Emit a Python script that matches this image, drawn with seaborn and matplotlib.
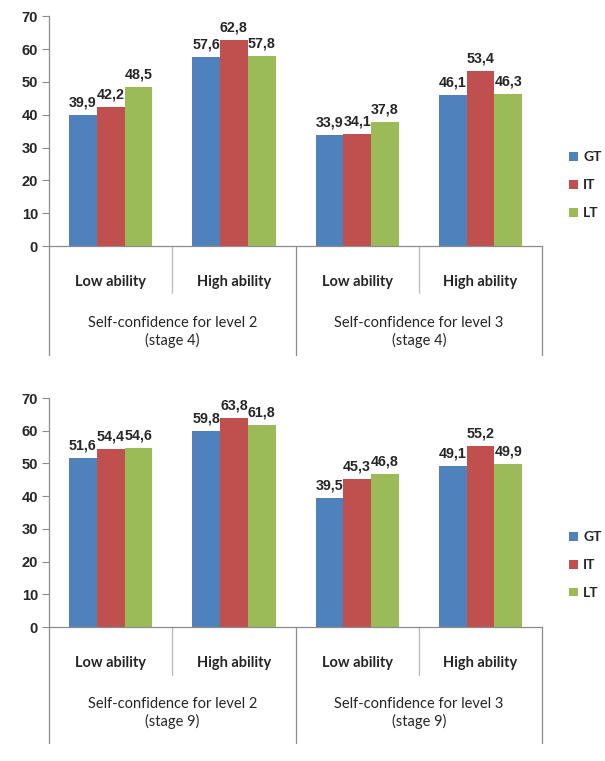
import matplotlib
matplotlib.use("Agg")
import matplotlib.pyplot as plt
import matplotlib.transforms as mtransforms
from matplotlib.patches import Patch
import pandas as pd
import seaborn as sns

# Data
abilities = ["Low ability", "High ability", "Low ability", "High ability"]
groups_stage4 = ["Self-confidence for level 2\n(stage 4)", "Self-confidence for level 3\n(stage 4)"]
groups_stage9 = ["Self-confidence for level 2\n(stage 9)", "Self-confidence for level 3\n(stage 9)"]
series = ["GT", "IT", "LT"]

stage4_gt = [39.9, 57.6, 33.9, 46.1]
stage4_it = [42.2, 62.8, 34.1, 53.4]
stage4_lt = [48.5, 57.8, 37.8, 46.3]

stage9_gt = [51.6, 59.8, 39.5, 49.1]
stage9_it = [54.4, 63.8, 45.3, 55.2]
stage9_lt = [54.6, 61.8, 46.8, 49.9]

colors = ["#4F81BD", "#C0504D", "#9BBB59"]
yticks = [0, 10, 20, 30, 40, 50, 60, 70]

sns.set_theme(style="white")
plt.rcParams["font.family"] = ["Lato", "DejaVu Sans"]

AXIS_GREY = "#8C8C8C"
NUM_FONT = ["Liberation Sans", "DejaVu Sans"]


def build_frame(gt, it, lt):
    rows = []
    for name, vals in zip(series, [gt, it, lt]):
        for i, v in enumerate(vals):
            rows.append({"slot": i, "series": name, "value": v})
    return pd.DataFrame(rows)


def draw_panel(ax, df, group_labels, short_drop, long_drop, legend_y):
    sns.barplot(data=df, x="slot", y="value", hue="series", hue_order=series,
                palette=colors, saturation=1, width=0.675, gap=0, linewidth=0,
                errorbar=None, ax=ax, legend=False)
    ax.set_xlim(-0.5, 3.5)
    ax.set_ylim(0, 70)
    ax.set_xlabel("")
    ax.set_ylabel("")
    ax.set_yticks(yticks)
    ax.set_yticklabels([str(t) for t in yticks], fontfamily=NUM_FONT,
                       fontweight="bold", fontsize=10.5)
    ax.tick_params(axis="y", which="major", direction="out", length=5,
                   width=0.8, color=AXIS_GREY, pad=3, left=True)
    ax.set_xticks(range(4))
    ax.set_xticklabels(abilities, fontweight="bold", fontsize=10.5)
    ax.tick_params(axis="x", length=0, pad=21)

    for side in ["top", "right"]:
        ax.spines[side].set_visible(False)
    for side in ["left", "bottom"]:
        ax.spines[side].set_color(AXIS_GREY)
        ax.spines[side].set_linewidth(0.9)

    # value labels on bars
    for container in ax.containers:
        labels = [f"{b.get_height():.1f}".replace(".", ",") for b in container]
        ax.bar_label(container, labels=labels, padding=4, fontsize=10.3,
                     fontweight="bold", fontfamily=NUM_FONT)

    # category table lines below the axis
    trans = mtransforms.blended_transform_factory(ax.transData, ax.transAxes)
    for x in [0.5, 2.5]:
        ax.plot([x, x], [0, -short_drop], transform=trans, color="#BFBFBF",
                lw=1.0, clip_on=False)
    for x in [-0.5, 1.5, 3.5]:
        ax.plot([x, x], [0, -long_drop], transform=trans, color=AXIS_GREY,
                lw=0.9, clip_on=False)

    for gx, label in zip([0.5, 2.5], group_labels):
        ax.text(gx, -0.375, label, transform=trans, ha="center", va="center",
                fontsize=10.5, linespacing=1.25)

    handles = [Patch(facecolor=c, edgecolor="none") for c in colors]
    ax.legend(handles, series, loc="center left",
              bbox_to_anchor=(1.055, legend_y), frameon=False, borderpad=0,
              borderaxespad=0,
              handlelength=0.6, handleheight=0.6, handletextpad=0.4,
              labelspacing=1.15, prop={"weight": "bold", "size": 10})


fig = plt.figure(figsize=(6.05, 7.61), dpi=100)
ax_top = fig.add_axes([0.081, 0.6767, 0.815, 0.302])
ax_bot = fig.add_axes([0.081, 0.176, 0.815, 0.301])

draw_panel(ax_top, build_frame(stage4_gt, stage4_it, stage4_lt),
           groups_stage4, 0.204, 0.474, 0.265)
draw_panel(ax_bot, build_frame(stage9_gt, stage9_it, stage9_lt),
           groups_stage9, 0.21, 0.507, 0.271)

fig.savefig("out.png", dpi=100, facecolor="white")
